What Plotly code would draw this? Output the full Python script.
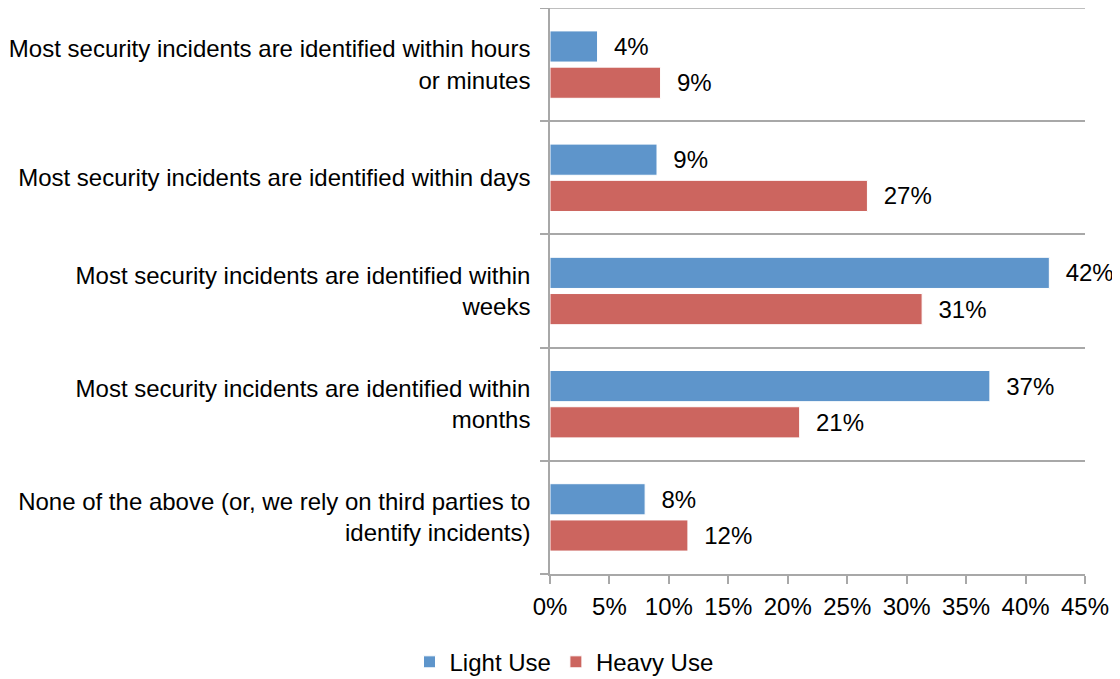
import plotly.graph_objects as go

categories = [
    "Most security incidents are identified within hours<br>or minutes",
    "Most security incidents are identified within days",
    "Most security incidents are identified within<br>weeks",
    "Most security incidents are identified within<br>months",
    "None of the above (or, we rely on third parties to<br>identify incidents)",
]
light_use = [4, 9, 42, 37, 8]
heavy_use = [9.3, 26.7, 31.3, 21, 11.6]
x_ticks = [0, 5, 10, 15, 20, 25, 30, 35, 40, 45]

ypos = list(range(len(categories)))
FONT = "Liberation Sans, Arial, sans-serif"
GRID = "#a8a8a8"
FS = 24

fig = go.Figure()
fig.add_trace(go.Bar(
    y=ypos, x=light_use, orientation="h", name="Light Use",
    marker=dict(color="#5E95CB", line=dict(color="#ffffff", width=1)),
    text=light_use, texttemplate="  %{x:.0f}%", textposition="outside",
    textfont=dict(size=FS, color="#000000", family=FONT), cliponaxis=False,
))
fig.add_trace(go.Bar(
    y=ypos, x=heavy_use, orientation="h", name="Heavy Use",
    marker=dict(color="#CC655F", line=dict(color="#ffffff", width=1)),
    text=heavy_use, texttemplate="  %{x:.0f}%", textposition="outside",
    textfont=dict(size=FS, color="#000000", family=FONT), cliponaxis=False,
))

fig.update_layout(
    width=1112, height=671,
    margin=dict(l=542, r=35, t=0, b=105, autoexpand=False),
    paper_bgcolor="white", plot_bgcolor="white",
    barmode="group", bargap=0.36, bargroupgap=0.14,
    font=dict(family=FONT, size=FS, color="#000000"),
    showlegend=True,
    legend=dict(orientation="h", xref="container", x=0.50, xanchor="center",
                yref="container", y=0.025, yanchor="middle",
                font=dict(size=FS), traceorder="normal", itemwidth=30),
    xaxis=dict(range=[0, 45], tickvals=x_ticks, ticktext=[f"{v}%" for v in x_ticks],
               showgrid=False, zeroline=False, showline=True,
               linecolor=GRID, linewidth=1.5,
               ticks="outside", ticklen=8, tickcolor=GRID, tickwidth=1.5,
               ticklabelstandoff=2, tickfont=dict(size=FS)),
    yaxis=dict(range=[4.5, -0.5], tickvals=ypos, ticktext=categories,
               showgrid=False, zeroline=False, showline=True, linecolor=GRID, linewidth=1.5,
               ticks="", ticklabelstandoff=13, tickfont=dict(size=FS)),
    shapes=[dict(type="line", xref="paper", yref="paper", x0=-0.018, x1=1, y0=1, y1=1,
                 line=dict(color=GRID, width=1.5), layer="below")],
)
fig.update_yaxes(minor=dict(tick0=0.5, dtick=1, showgrid=True, gridcolor=GRID, gridwidth=1.5,
                            ticks="outside", ticklen=8, tickcolor=GRID, tickwidth=1.5))

fig.write_html("out.html")
